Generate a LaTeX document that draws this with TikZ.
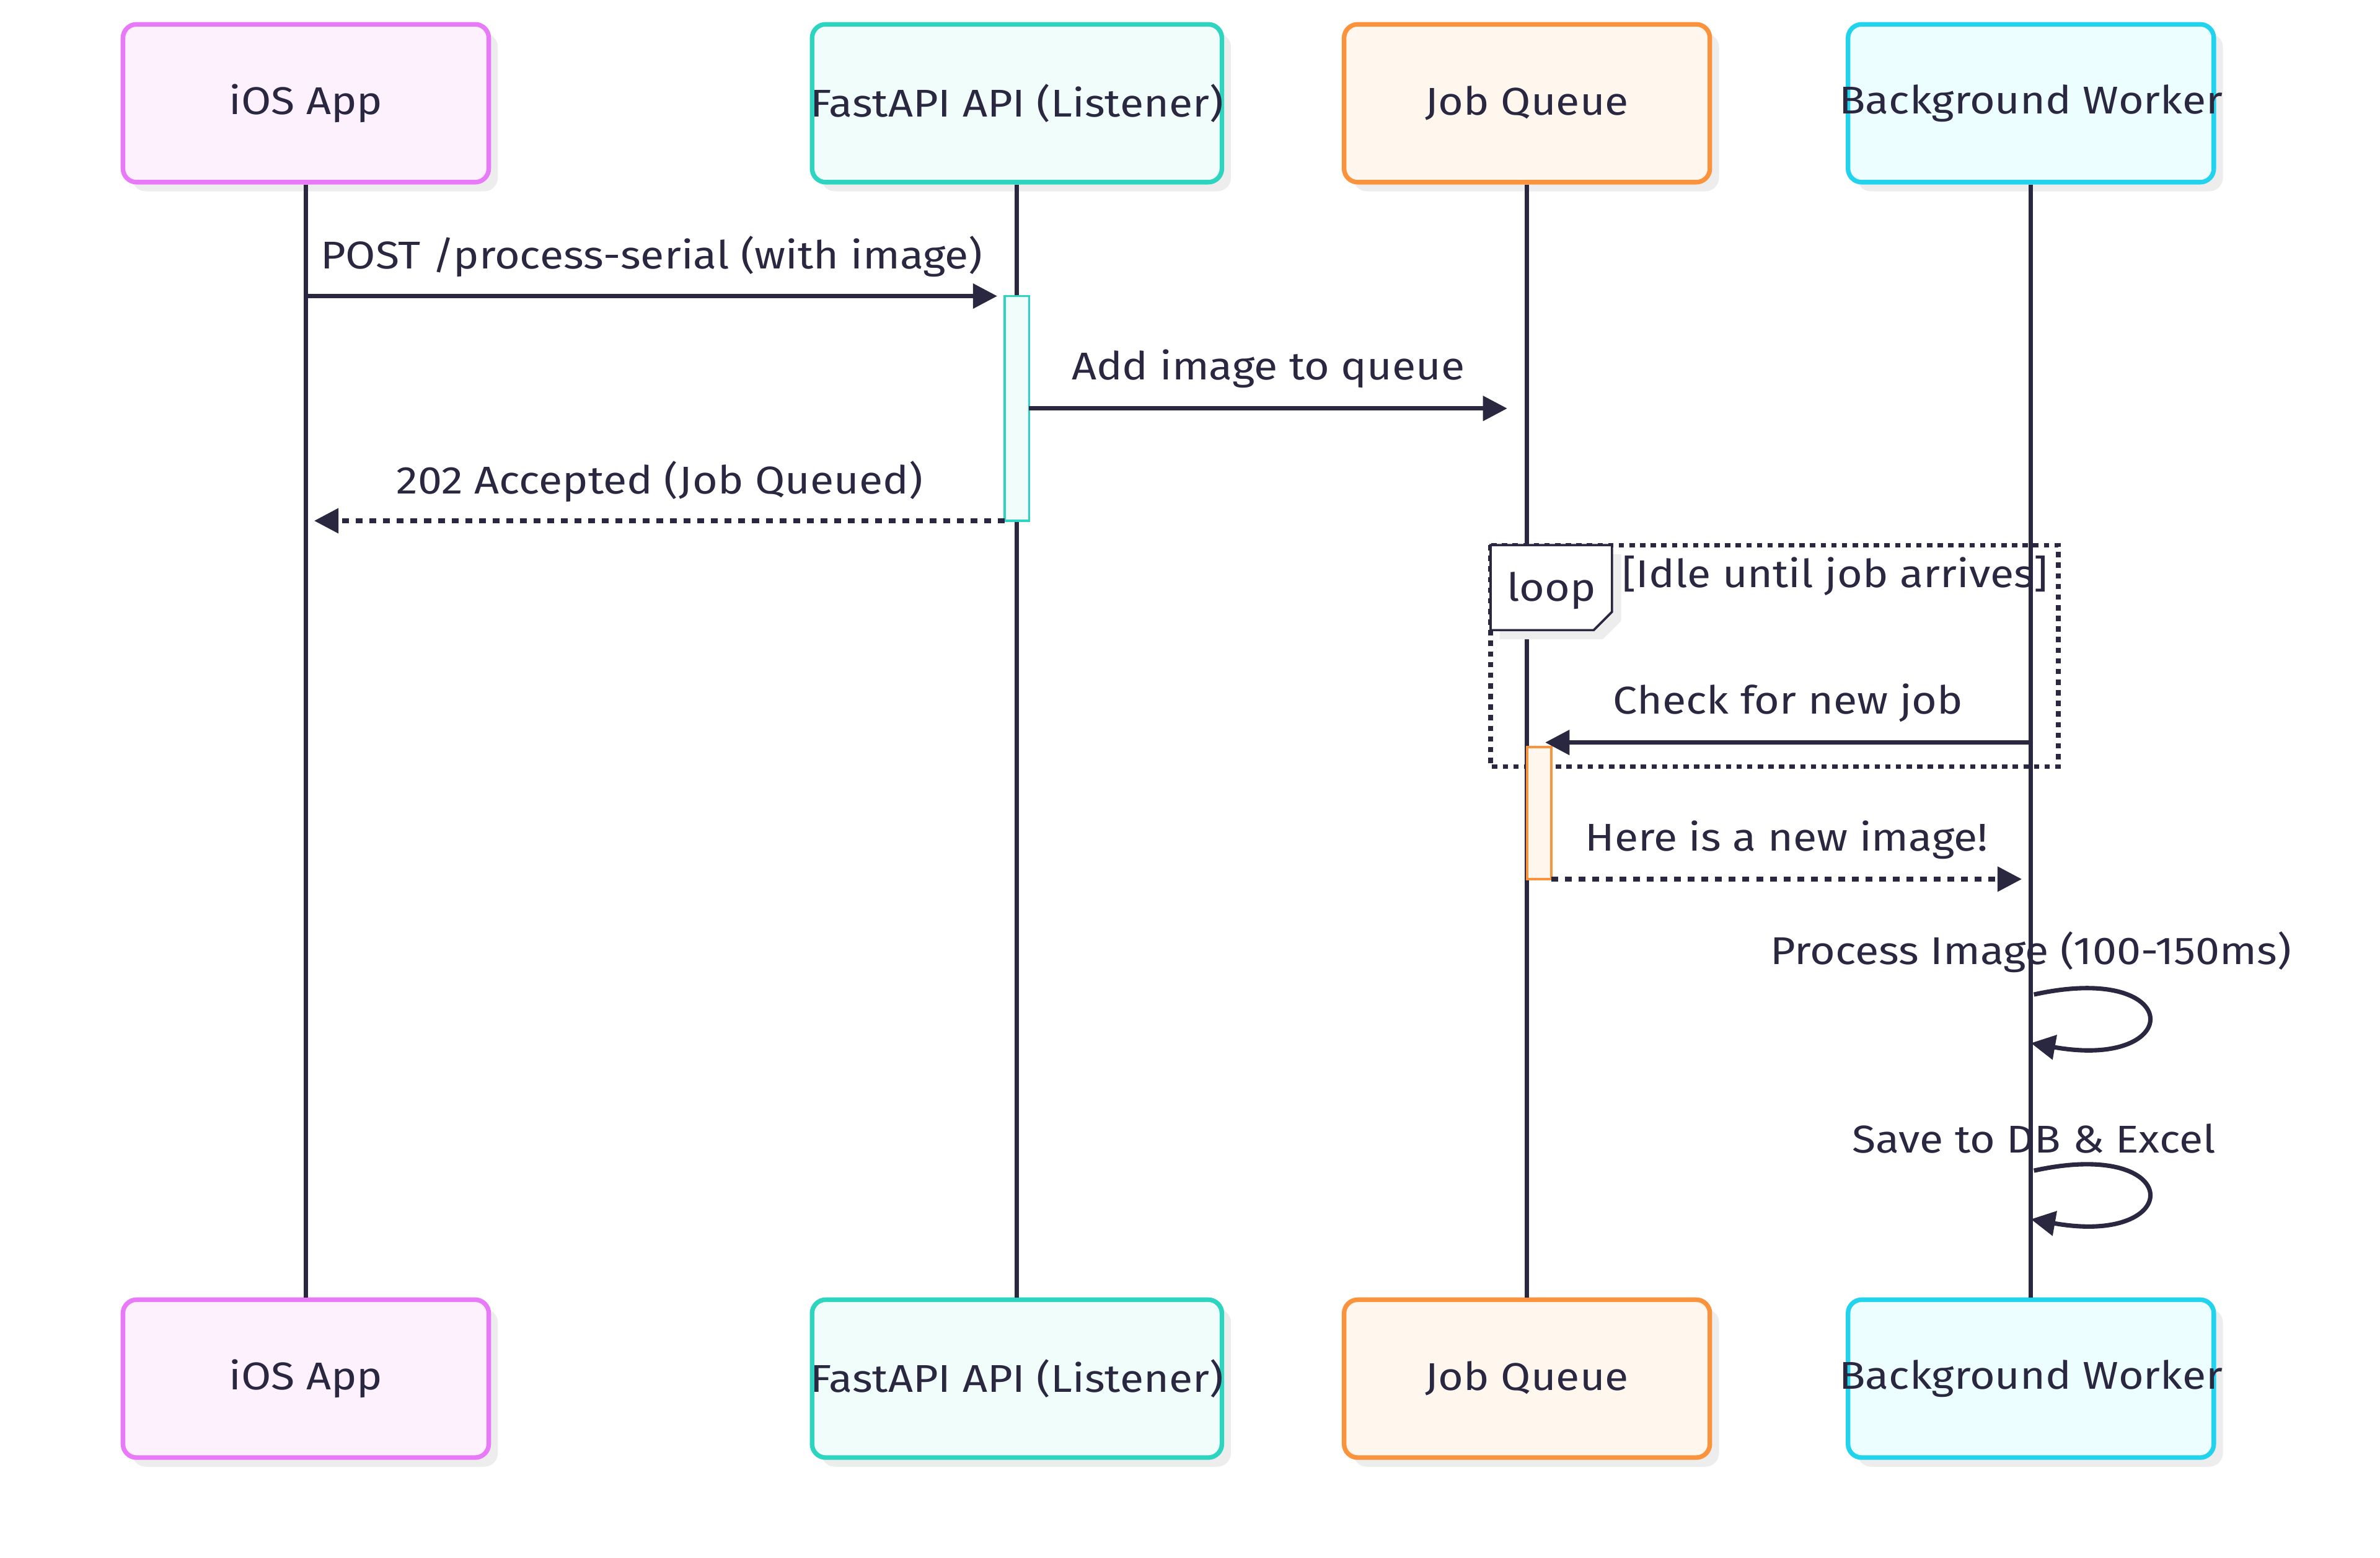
\documentclass[tikz,border=0pt]{standalone}
\usepackage{fontspec}
\setmainfont{Fira Sans}[FakeStretch=1.12]
\usetikzlibrary{positioning, arrows.meta, shadows}
\definecolor{ink}{HTML}{2A2741}
\definecolor{iosline}{HTML}{E879F9}
\definecolor{iosfill}{HTML}{FDF1FE}
\definecolor{apiline}{HTML}{2DD4BF}
\definecolor{apifill}{HTML}{F0FDFA}
\definecolor{jobline}{HTML}{FB923C}
\definecolor{jobfill}{HTML}{FFF7ED}
\definecolor{wrkline}{HTML}{22D3EE}
\definecolor{wrkfill}{HTML}{ECFEFF}

\begin{document}
\begin{tikzpicture}[x=1pt, y=-1pt, node distance=733pt,
	every node/.style={text=ink, font=\fontsize{25.5}{30}\selectfont},
	actor/.style={draw=#1line, fill=#1fill, line width=3pt, rounded corners=9pt,
		minimum width=241pt, minimum height=104pt, inner ysep=0pt, inner xsep=-20pt,
		drop shadow={shadow xshift=6pt, shadow yshift=-6pt, fill=black!7, opacity=1}},
	life/.style={draw=ink, line width=2.9pt},
	msg/.style={draw=ink, line width=2.9pt, -{Triangle[length=16pt,width=16pt]}},
	reply/.style={msg, dash pattern=on 4.5pt off 4.5pt},
	bar/.style={draw=#1line, fill=#1fill, line width=1.5pt, minimum width=16pt, inner sep=0pt},
	msgtext/.style={midway, yshift=26pt}]
	\useasboundingbox (0,0) rectangle (1568,1026);

	\node[actor=ios]  (ios)  at (201.5,68) {iOS App};
	\node[actor=api, minimum width=270pt]  (api)  at (670,68) {FastAPI API (Listener)};
	\node[actor=job]  (job)  at (1006,68) {Job Queue};
	\node[actor=wrk]  (wrk)  at (1338,68) {Background Worker};

	\node[actor=ios, below=of ios]  (iosb)  {iOS App};
	\node[actor=api, minimum width=270pt, below=of api]  (apib)  {FastAPI API (Listener)};
	\node[actor=job, below=of job]  (jobb)  {Job Queue};
	\node[actor=wrk, below=of wrk]  (wrkb)  {Background Worker};

	\draw[life] (ios) -- (iosb);
	\draw[life] (api) -- (apib);
	\draw[life] (job) -- (jobb);
	\draw[life] (wrk) -- (wrkb);

	% loop frame
	\coordinate (loopnw) at (982,359);
	\coordinate (loopse) at (1356,505);
	\draw[ink, line width=3pt, dash pattern=on 3.5pt off 3.5pt] (loopnw) rectangle (loopse);
	\draw[ink, line width=1.5pt, fill=white, drop shadow={shadow xshift=6pt, shadow yshift=-6pt, fill=black!7, opacity=1}]
		(loopnw) -- ++(80,0) -- ++(0,44) -- ++(-12,12) -- ++(-68,0) -- cycle;
	\node (looptag) at (1022,389) {loop};
	\node (loopcond) at (1209,379) {[Idle until job arrives]};

	\node[bar=api, minimum height=148pt] (apiact) at (670,269) {};
	\node[bar=job, minimum height=87pt]  (jobact) at (1014,535.5) {};

	\coordinate (m1e) at (657,195);
	\coordinate (m2s) at (678,269);
	\coordinate (m2e) at (993,269);
	\coordinate (m3s) at (662,343);
	\coordinate (m3e) at (207,343);
	\coordinate (m4e) at (1018,489);
	\coordinate (m5s) at (1022,579);
	\coordinate (m5e) at (1332,579);

	\draw[msg] (ios |- m1e) -- node[msgtext] {POST /process-serial (with image)} (m1e);
	\draw[msg] (m2s) -- node[msgtext] {Add image to queue} (m2e);
	\draw[reply] (m3s) -- node[msgtext] {202 Accepted (Job Queued)} (m3e);
	\draw[msg] (wrk |- m4e) -- node[msgtext] {Check for new job} (m4e);
	\draw[reply] (m5s) -- node[msgtext] {Here is a new image!} (m5e);

	\node (proc) at (1338,627) {Process Image (100-150ms)};
	\draw[msg] (1340,655) .. controls (1440,633) and (1440,705) .. (1338,687);
	\node (save) at (1340,750) {Save to DB \& Excel};
	\draw[msg] (1340,771) .. controls (1440,749) and (1440,821) .. (1338,803);
\end{tikzpicture}
\end{document}
